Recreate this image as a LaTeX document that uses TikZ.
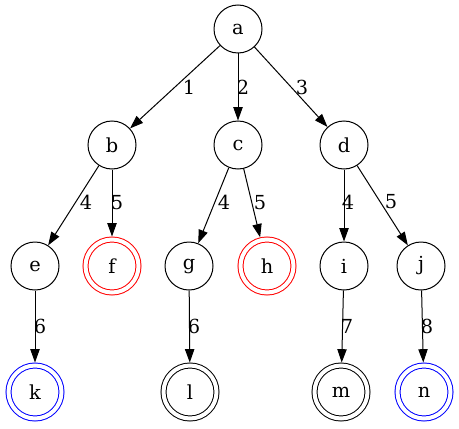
\documentclass[tikz,border=0pt]{standalone}
\usepackage{fontspec}
\setmainfont{DejaVu Serif}
\usetikzlibrary{arrows.meta}
\definecolor{acceptred}{RGB}{255,0,0}
\definecolor{acceptblue}{RGB}{0,0,255}

\begin{document}
\begin{tikzpicture}[x=0.75pt,y=-0.75pt,line width=0.75pt,
  font=\fontsize{14.5pt}{17pt}\selectfont,
  state/.style={circle,draw,minimum size=36pt,inner sep=0pt},
  final/.style={circle,draw,double,double distance=3pt,minimum size=39.75pt,inner sep=0pt,outer sep=2.25pt},
  edge/.style={-{Triangle[length=10pt,width=7pt]}},
  lbl/.style={inner sep=0pt,anchor=center}]
\useasboundingbox (0,0) rectangle (459,428);
% levels
\node[state] (a) at (238,29) {a};
\node[state] (b) at (112,145) {b};
\node[state] (c) at (238,145) {c};
\node[state] (d) at (344,145) {d};
\node[state] (e) at (35,266) {e};
\node[final,draw=acceptred] (f) at (112,266) {f};
\node[state] (g) at (189,266) {g};
\node[final,draw=acceptred] (h) at (267,266) {h};
\node[state] (i) at (344,266) {i};
\node[state] (j) at (421,266) {j};
\node[final,draw=acceptblue] (k) at (35,392) {k};
\node[final] (l) at (190,392) {l};
\node[final] (m) at (341,392) {m};
\node[final,draw=acceptblue] (n) at (424,392) {n};
% transitions
\draw[edge] (a) -- node[lbl,xshift=10.5pt] {1} (b);
\draw[edge] (a) -- node[lbl,xshift=3.75pt] {2} (c);
\draw[edge] (a) -- node[lbl,xshift=8.25pt] {3} (d);
\draw[edge] (b) -- node[lbl,xshift=9.4pt,yshift=2.6pt] {4} (e);
\draw[edge] (b) -- node[lbl,xshift=3.75pt] {5} (f);
\draw[edge] (c) -- node[lbl,xshift=7.9pt,yshift=2.6pt] {4} (g);
\draw[edge] (c) -- node[lbl,xshift=6pt] {5} (h);
\draw[edge] (d) -- node[lbl,xshift=3pt,yshift=2.6pt] {4} (i);
\draw[edge] (d) -- node[lbl,xshift=6.4pt,yshift=2.6pt] {5} (j);
\draw[edge] (e) -- node[lbl,xshift=3.75pt] {6} (k);
\draw[edge] (g) -- node[lbl,xshift=3.4pt] {6} (l);
\draw[edge] (i) -- node[lbl,xshift=3.4pt] {7} (m);
\draw[edge] (j) -- node[lbl,xshift=3.4pt] {8} (n);
\end{tikzpicture}
\end{document}
